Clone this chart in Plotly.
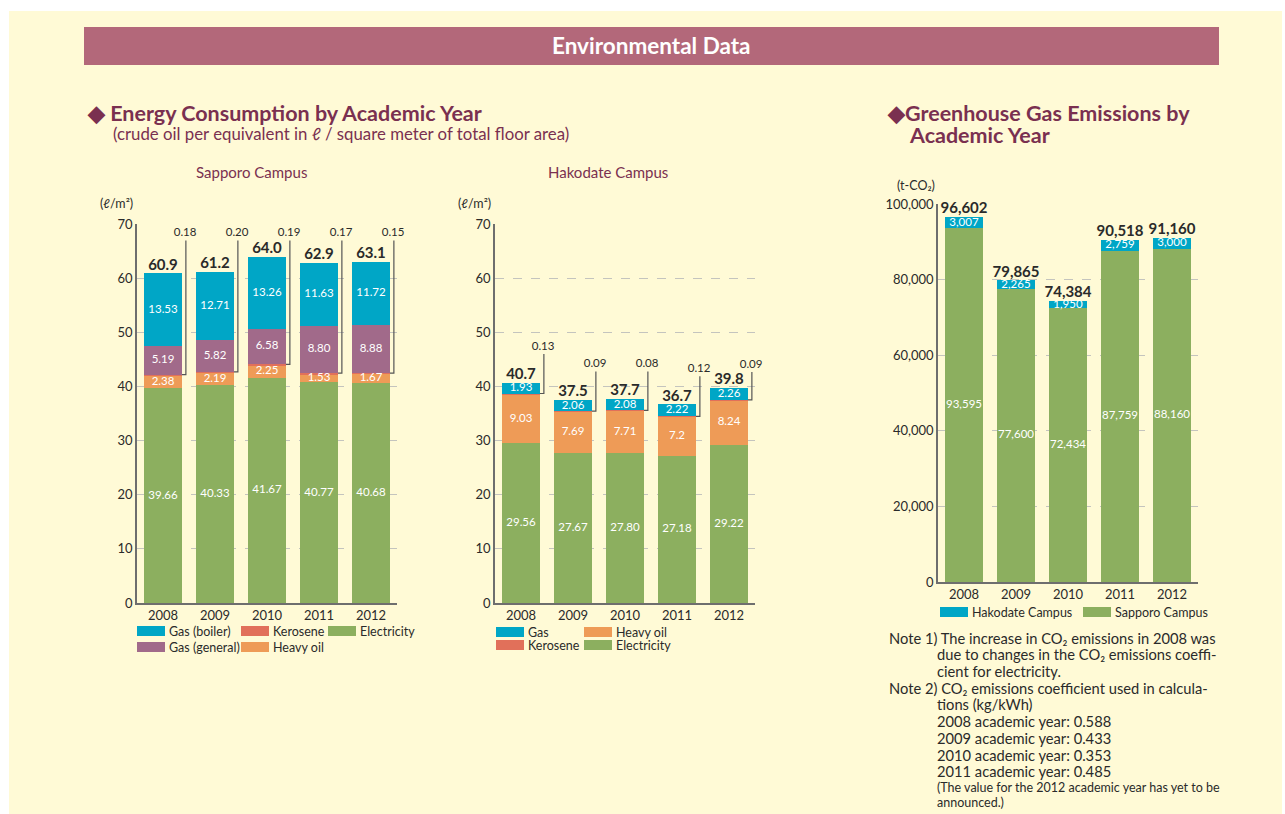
import plotly.graph_objects as go

# ---------------- data ----------------
years = ["2008", "2009", "2010", "2011", "2012"]

sap_electricity = [39.66, 40.33, 41.67, 40.77, 40.68]
sap_heavy_oil = [2.38, 2.19, 2.25, 1.53, 1.67]
sap_kerosene = [0.18, 0.20, 0.19, 0.17, 0.15]
sap_gas_general = [5.19, 5.82, 6.58, 8.80, 8.88]
sap_gas_boiler = [13.53, 12.71, 13.26, 11.63, 11.72]
sap_totals = [60.9, 61.2, 64.0, 62.9, 63.1]

hak_electricity = [29.56, 27.67, 27.80, 27.18, 29.22]
hak_heavy_oil = [9.03, 7.69, 7.71, 7.2, 8.24]
hak_kerosene = [0.13, 0.09, 0.08, 0.12, 0.09]
hak_gas = [1.93, 2.06, 2.08, 2.22, 2.26]
hak_totals = [40.7, 37.5, 37.7, 36.7, 39.8]

ghg_sapporo = [93595, 77600, 72434, 87759, 88160]
ghg_hakodate = [3007, 2265, 1950, 2759, 3000]
ghg_totals = [96602, 79865, 74384, 90518, 91160]

# ---------------- style ----------------
W, H = 1285, 814
BG = "#FFFAD6"
BANNER = "#B3687A"
MAROON = "#7A3050"
C_CYAN = "#00A6C6"
C_PURPLE = "#A16A8A"
C_ORANGE = "#EE9B57"
C_RED = "#E1705A"
C_GREEN = "#8CAF5F"
TXT = "#2A2A2A"
FONT = "Lato"
BAR_W = 0.73
SAP_CALLOUT_LEVEL = 68.3                       # label height of kerosene callouts (axis units)
HAK_CALLOUT_RAISE = [6.6, 6.6, 6.4, 6.5, 4.2]  # label raise above each Hakodate bar top


def px(x):
    return x / W


def py(y):
    return 1 - y / H


xs = list(range(len(years)))
fig = go.Figure()


def add_stack(xa, ya, layers, totals, ker_index, callout_y, tot_fmt):
    base = [0.0] * len(xs)
    tops = []
    for vals, color, fmt, labelled in layers:
        fig.add_trace(go.Bar(x=xs, y=vals, marker=dict(color=color, line=dict(width=0)),
                             width=BAR_W, xaxis=xa, yaxis=ya, showlegend=False,
                             hoverinfo="skip"))
        centers = [b + v / 2 for b, v in zip(base, vals)]
        if labelled:
            fig.add_trace(go.Scatter(x=xs, y=centers, mode="text",
                                     text=[format(v, fmt) for v in vals],
                                     textfont=dict(color="white", size=11.5, family=FONT),
                                     xaxis=xa, yaxis=ya, showlegend=False,
                                     hoverinfo="skip", cliponaxis=False))
        base = [b + v for b, v in zip(base, vals)]
        tops.append(list(base))
    # totals above bars
    fig.add_trace(go.Scatter(x=xs, y=totals, mode="text", textposition="top center",
                             text=["<b>" + format(t, tot_fmt) + "</b>" for t in totals],
                             textfont=dict(color=TXT, size=15, family=FONT),
                             xaxis=xa, yaxis=ya, showlegend=False, hoverinfo="skip",
                             cliponaxis=False))
    if ker_index is not None:
        ker_vals, ker_top = layers[ker_index][0], tops[ker_index]
        lx, ly = [], []
        off = BAR_W / 2
        for i in xs:
            cy = callout_y[i]
            lx += [i + off, i + off + 0.075, i + off + 0.075, None]
            ly += [ker_top[i], ker_top[i], cy - 1.3, None]
        fig.add_trace(go.Scatter(x=lx, y=ly, mode="lines",
                                 line=dict(color="#555555", width=1.2),
                                 xaxis=xa, yaxis=ya, showlegend=False, hoverinfo="skip",
                                 cliponaxis=False))
        fig.add_trace(go.Scatter(x=[i + off + 0.06 for i in xs], y=callout_y, mode="text",
                                 text=[format(v, ".2f") for v in ker_vals],
                                 textfont=dict(color=TXT, size=11.5, family=FONT),
                                 xaxis=xa, yaxis=ya, showlegend=False, hoverinfo="skip",
                                 cliponaxis=False))


# Sapporo
add_stack("x", "y",
          [(sap_electricity, C_GREEN, ".2f", True),
           (sap_heavy_oil, C_ORANGE, ".2f", True),
           (sap_kerosene, C_RED, ".2f", False),
           (sap_gas_general, C_PURPLE, ".2f", True),
           (sap_gas_boiler, C_CYAN, ".2f", True)],
          sap_totals, 2, [SAP_CALLOUT_LEVEL] * len(xs), ".1f")

# Hakodate
add_stack("x2", "y2",
          [(hak_electricity, C_GREEN, ".2f", True),
           (hak_heavy_oil, C_ORANGE, "g", True),
           (hak_kerosene, C_RED, ".2f", False),
           (hak_gas, C_CYAN, ".2f", True)],
          hak_totals, 2, [t + r for t, r in zip(hak_totals, HAK_CALLOUT_RAISE)], ".1f")

# GHG
add_stack("x3", "y3",
          [(ghg_sapporo, C_GREEN, ",d", True),
           (ghg_hakodate, C_CYAN, ",d", True)],
          ghg_totals, None, None, ",d")

axis_common = dict(showline=True, linecolor="#6E6E6E", linewidth=1.5, ticks="",
                   automargin=False,
                   tickfont=dict(size=13, color=TXT, family=FONT), fixedrange=True)
xcommon = dict(axis_common, range=[-0.5, 4.5], tickvals=xs, ticktext=years,
               showgrid=False, zeroline=False)
ycommon = dict(axis_common, gridcolor="#C4C4BE", griddash="dash", gridwidth=1,
               zeroline=False, showgrid=True)

fig.update_layout(
    width=W, height=H, margin=dict(l=0, r=0, t=0, b=0, pad=0), autosize=False,
    paper_bgcolor="white", plot_bgcolor="rgba(0,0,0,0)",
    barmode="stack", font=dict(family=FONT, color=TXT),
    xaxis=dict(xcommon, domain=[px(137), px(397)], anchor="y"),
    yaxis=dict(ycommon, domain=[py(603), py(224)], anchor="x", range=[0, 70.05],
               tickvals=[0, 10, 20, 30, 40, 50, 60, 70]),
    xaxis2=dict(xcommon, domain=[px(495), px(755)], anchor="y2"),
    yaxis2=dict(ycommon, domain=[py(603), py(224)], anchor="x2", range=[0, 70.05],
                tickvals=[0, 10, 20, 30, 40, 50, 60, 70]),
    xaxis3=dict(xcommon, domain=[px(938), px(1198)], anchor="y3"),
    yaxis3=dict(ycommon, domain=[py(582), py(204)], anchor="x3", range=[0, 100080],
                tickvals=[0, 20000, 40000, 60000, 80000, 100000], tickformat=",d"),
)

shapes = [
    dict(type="rect", xref="paper", yref="paper", x0=px(9), x1=px(1282), y0=py(814), y1=py(11),
         fillcolor=BG, line=dict(width=0), layer="below"),
    dict(type="rect", xref="paper", yref="paper", x0=px(84), x1=px(1219), y0=py(65), y1=py(27),
         fillcolor=BANNER, line=dict(width=0), layer="below"),
]
ann = []


def text(x, y, s, size=13, color=TXT, xanchor="left"):
    ann.append(dict(x=px(x), y=py(y), xref="paper", yref="paper", text=s, showarrow=False,
                    xanchor=xanchor, yanchor="middle",
                    font=dict(size=size, color=color, family=FONT)))


text(651, 46, "<b>Environmental Data</b>", 22.5, "white", "center")
text(85, 113, "<b>◆ Energy Consumption by Academic Year</b>", 21.5, MAROON)
text(111, 134, "(crude oil per equivalent in ℓ / square meter of total floor area)", 16.8, MAROON)
text(251, 172, "Sapporo Campus", 15, MAROON, "center")
text(608, 172, "Hakodate Campus", 15, MAROON, "center")
text(885, 113, "<b>◆Greenhouse Gas Emissions by</b>", 21.5, MAROON)
text(907, 135, "<b>Academic Year</b>", 21.5, MAROON)

text(116, 204, "(ℓ/m²)", 12.5, TXT, "center")
text(474, 204, "(ℓ/m²)", 12.5, TXT, "center")
text(916, 186, "(t-CO₂)", 12.5, TXT, "center")


def legend_item(x0, y, color, label):
    shapes.append(dict(type="rect", xref="paper", yref="paper", x0=px(x0), x1=px(x0 + 28),
                       y0=py(y + 5), y1=py(y - 5), fillcolor=color, line=dict(width=0)))
    text(x0 + 30, y, label, 12.5, TXT)


legend_item(137, 631, C_CYAN, "Gas (boiler)")
legend_item(241, 631, C_RED, "Kerosene")
legend_item(328, 631, C_GREEN, "Electricity")
legend_item(137, 647, C_PURPLE, "Gas (general)")
legend_item(241, 647, C_ORANGE, "Heavy oil")

legend_item(496, 632, C_CYAN, "Gas")
legend_item(584, 632, C_ORANGE, "Heavy oil")
legend_item(496, 645, C_RED, "Kerosene")
legend_item(584, 645, C_GREEN, "Electricity")

legend_item(940, 612, C_CYAN, "Hakodate Campus")
legend_item(1083, 612, C_GREEN, "Sapporo Campus")

notes = [
    (887, 638, "Note 1) The increase in CO₂ emissions in 2008 was", 14.7),
    (935, 654, "due to changes in the CO₂ emissions coeffi-", 14.7),
    (935, 671, "cient for electricity.", 14.7),
    (887, 688, "Note 2) CO₂ emissions coefficient used in calcula-", 14.7),
    (935, 704, "tions (kg/kWh)", 14.7),
    (935, 721, "2008 academic year: 0.588", 14.7),
    (935, 738, "2009 academic year: 0.433", 14.7),
    (935, 755, "2010 academic year: 0.353", 14.7),
    (935, 771, "2011 academic year: 0.485", 14.7),
    (935, 787, "(The value for the 2012 academic year has yet to be", 12.5),
    (935, 802, "announced.)", 12.5),
]
for x, y, s, sz in notes:
    text(x, y, s, sz, TXT)

fig.update_layout(shapes=shapes, annotations=ann)

fig.write_html("out.html", config={"displayModeBar": False},
               post_script="document.body.style.margin='0';")
